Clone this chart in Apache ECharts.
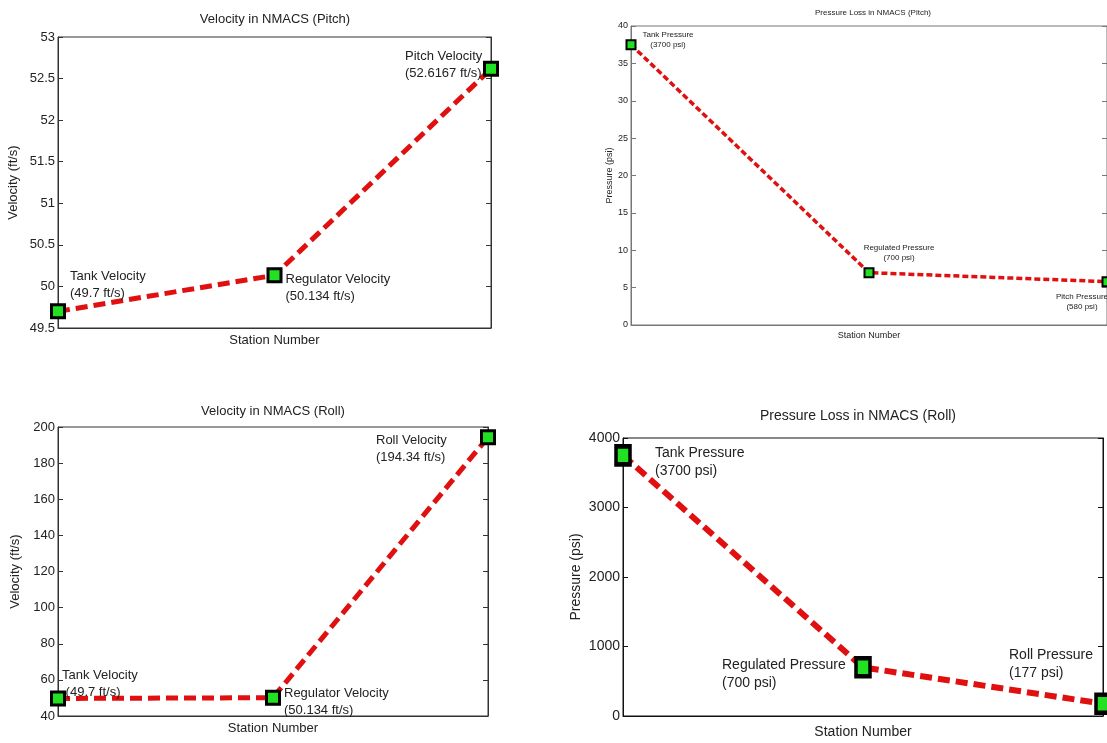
<!DOCTYPE html>
<html>
<head>
<meta charset="utf-8">
<script src="https://cdn.jsdelivr.net/npm/echarts@6/dist/echarts.min.js"></script>
<style>
  html, body { margin: 0; padding: 0; background: #fff; }
  #chart { width: 1107px; height: 743px; }
</style>
</head>
<body>
<div id="chart"></div>
<script>
// stations along the x axis (no tick labels shown)
const stations = ['1', '2', '3']

// Velocity in NMACS (Pitch)
const velPitch = [49.7, 50.134, 52.6167]
const velPitchNotes = ['Tank Velocity\n(49.7 ft/s)', 'Regulator Velocity\n(50.134 ft/s)', 'Pitch Velocity\n(52.6167 ft/s)']
const velPitchTicks = [49.5, 50, 50.5, 51, 51.5, 52, 52.5, 53]

// Pressure Loss in NMACS (Pitch)
const presPitch = [37.5, 7.0, 5.8]
const presPitchNotes = ['Tank Pressure\n(3700 psi)', 'Regulated Pressure\n(700 psi)', 'Pitch Pressure\n(580 psi)']
const presPitchTicks = [0, 5, 10, 15, 20, 25, 30, 35, 40]

// Velocity in NMACS (Roll)
const velRoll = [49.7, 50.134, 194.34]
const velRollNotes = ['Tank Velocity\n (49.7 ft/s)', 'Regulator Velocity\n(50.134 ft/s)', 'Roll Velocity\n(194.34 ft/s)']
const velRollTicks = [40, 60, 80, 100, 120, 140, 160, 180, 200]

// Pressure Loss in NMACS (Roll)
const presRoll = [3750, 700, 177]
const presRollNotes = ['Tank Pressure\n(3700 psi)', 'Regulated Pressure\n(700 psi)', 'Roll Pressure\n(177 psi)']
const presRollTicks = [0, 1000, 2000, 3000, 4000]

const SANS = '"Liberation Sans", Arial, sans-serif'

const panels = [
  {
    title: 'Velocity in NMACS (Pitch)', yName: 'Velocity (ft/s)',
    values: velPitch, notes: velPitchNotes, ticks: velPitchTicks,
    box: { left: 58, top: 37, width: 433, height: 291 }, titleX: 275, titleY: 13,
    titleSize: 13, tickSize: 13, noteSize: 13, nameSize: 13,
    yGap: 38, xGap: 6, frame: '#333', lineW: 5, dash: [12, 6], sym: 13, symBorder: 3,
    offsets: [[12, -43, 'left'], [11, -4, 'left'], [-86, -21, 'left']]
  },
  {
    title: 'Pressure Loss in NMACS (Pitch)', yName: 'Pressure (psi)',
    values: presPitch, notes: presPitchNotes, ticks: presPitchTicks,
    box: { left: 631, top: 26, width: 484, height: 299 }, titleX: 873, titleY: 9,
    titleSize: 8, tickSize: 9, noteSize: 8, nameSize: 9,
    yGap: 14, xGap: 6, frame: '#777', lineW: 3.5, dash: [6, 3], sym: 9, symBorder: 2,
    offsets: [[37, -15, 'center'], [30, -30, 'center'], [-25, 10, 'center']]
  },
  {
    title: 'Velocity in NMACS (Roll)', yName: 'Velocity (ft/s)',
    values: velRoll, notes: velRollNotes, ticks: velRollTicks,
    box: { left: 58, top: 427, width: 430, height: 289 }, titleX: 273, titleY: 405,
    titleSize: 13, tickSize: 13, noteSize: 13, nameSize: 13,
    yGap: 36, xGap: 6, frame: '#333', lineW: 5, dash: [12, 6], sym: 13, symBorder: 3,
    offsets: [[4, -32, 'left'], [11, -13, 'left'], [-112, -5, 'left']]
  },
  {
    title: 'Pressure Loss in NMACS (Roll)', yName: 'Pressure (psi)',
    values: presRoll, notes: presRollNotes, ticks: presRollTicks,
    box: { left: 623, top: 438, width: 480, height: 278 }, titleX: 858, titleY: 409,
    titleSize: 14, tickSize: 14, noteSize: 14, nameSize: 14,
    yGap: 40, xGap: 9, frame: '#111', lineW: 6, dash: [12, 6], sym: [14, 18], symBorder: 4,
    offsets: [[32, -11, 'left'], [-141, -11, 'left'], [-94, -58, 'left']]
  }
]

const grid = [], xAxis = [], yAxis = [], series = [], graphic = []

panels.forEach((p, i) => {
  const lo = p.ticks[0], hi = p.ticks[p.ticks.length - 1]
  const step = p.ticks[1] - p.ticks[0]

  grid.push({ ...p.box, show: true, borderColor: p.frame, borderWidth: 1, backgroundColor: '#fff' })

  graphic.push({
    type: 'text', x: p.titleX, y: p.titleY,
    style: { text: p.title, textAlign: 'center', textVerticalAlign: 'top',
             font: `${p.titleSize}px ${SANS}`, fill: '#222' }
  })

  xAxis.push({
    gridIndex: i, type: 'category', data: stations, boundaryGap: false,
    axisLabel: { show: false }, axisTick: { show: false },
    axisLine: { lineStyle: { color: p.frame } },
    name: 'Station Number', nameLocation: 'middle', nameGap: p.xGap,
    nameTextStyle: { fontFamily: SANS, fontSize: p.nameSize, color: '#222', verticalAlign: 'top' }
  })

  yAxis.push({
    gridIndex: i, type: 'value', min: lo, max: hi, interval: step,
    splitLine: { show: false },
    axisLine: { show: true, lineStyle: { color: p.frame } },
    axisTick: { show: true, inside: true, length: 5, lineStyle: { color: p.frame } },
    axisLabel: { fontFamily: SANS, fontSize: p.tickSize, color: '#222', margin: 3,
                 formatter: v => String(v) },
    name: p.yName, nameLocation: 'middle', nameGap: p.yGap, nameRotate: 90,
    nameTextStyle: { fontFamily: SANS, fontSize: p.nameSize, color: '#222' }
  })
  yAxis.push({
    gridIndex: i, type: 'value', min: lo, max: hi, interval: step, position: 'right',
    splitLine: { show: false }, axisLabel: { show: false },
    axisLine: { show: true, lineStyle: { color: p.frame } },
    axisTick: { show: true, inside: true, length: 5, lineStyle: { color: p.frame } }
  })

  series.push({
    type: 'line', xAxisIndex: i, yAxisIndex: i * 2, clip: false,
    symbol: 'rect', symbolSize: p.sym,
    itemStyle: { color: '#22e022', borderColor: '#000', borderWidth: p.symBorder },
    lineStyle: { color: '#e01010', width: p.lineW, type: p.dash },
    z: 3,
    data: p.values.map((v, k) => ({
      value: v,
      label: {
        show: true, position: 'inside', formatter: p.notes[k],
        align: p.offsets[k][2], verticalAlign: 'top',
        offset: [p.offsets[k][0], p.offsets[k][1]],
        fontFamily: SANS, fontSize: p.noteSize, lineHeight: Math.round(p.noteSize * 1.3),
        color: '#222'
      }
    }))
  })
})

const chart = echarts.init(document.getElementById('chart'))
chart.setOption({
  animation: false,
  backgroundColor: '#fff',
  grid, xAxis, yAxis, series, graphic
})
</script>
</body>
</html>
